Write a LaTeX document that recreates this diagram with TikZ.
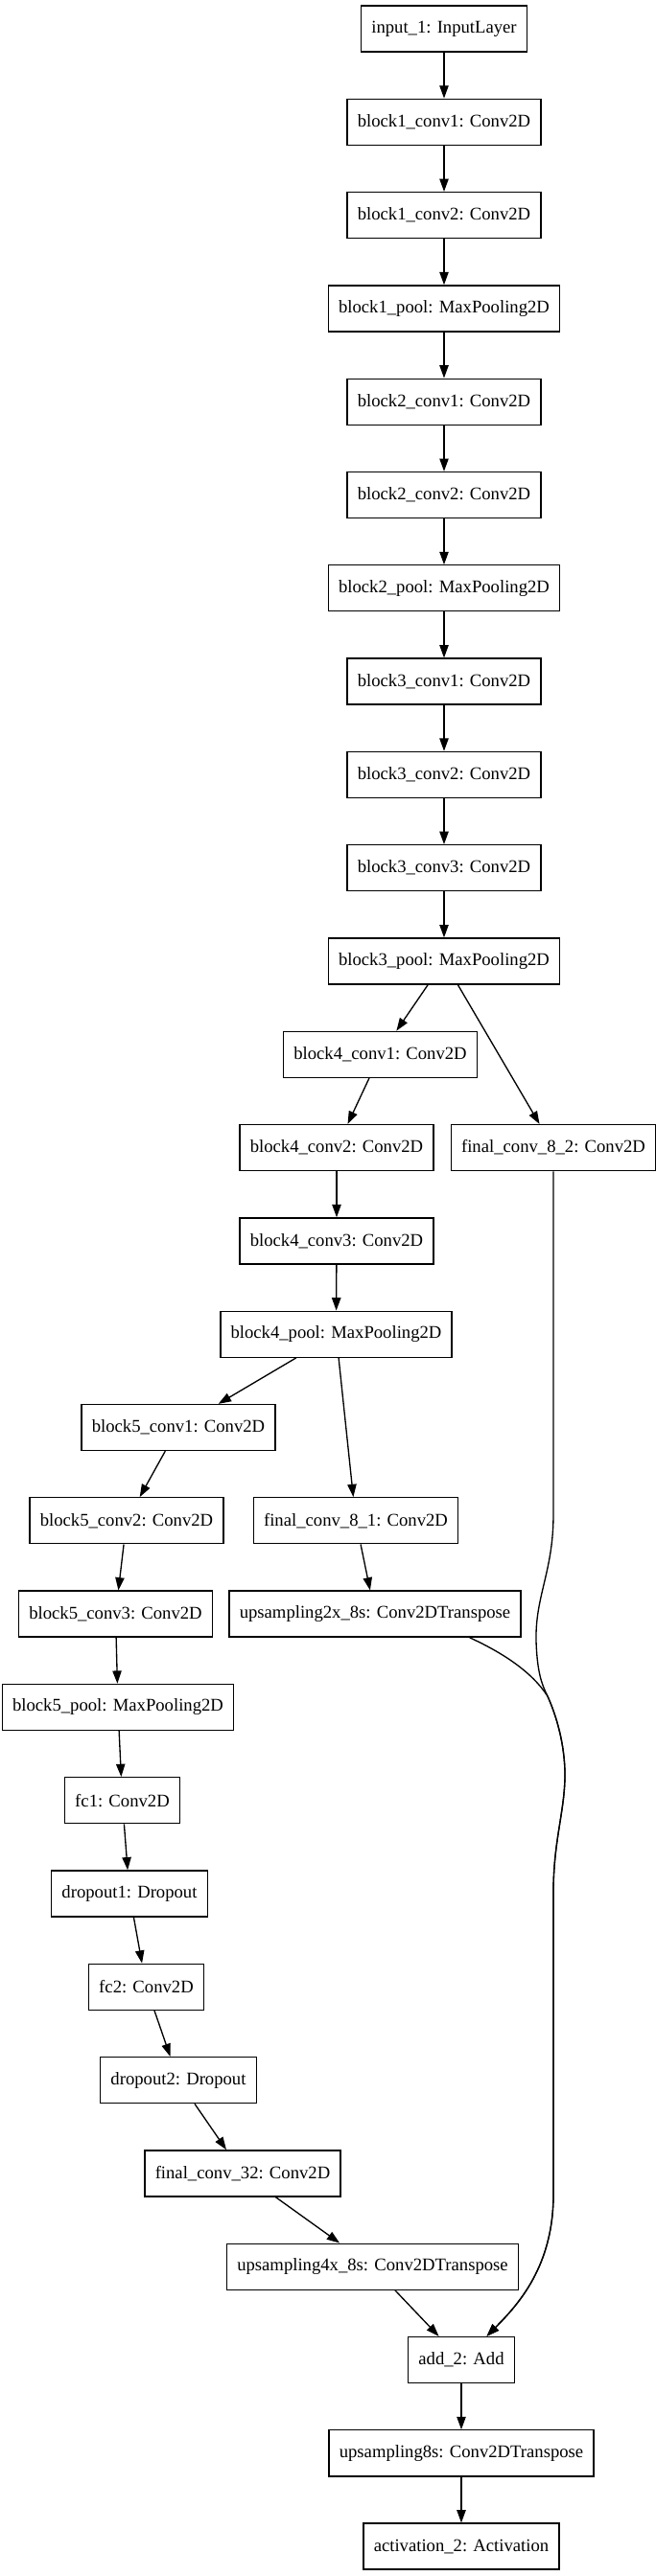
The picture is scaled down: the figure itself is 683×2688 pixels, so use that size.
\documentclass[tikz,border=0pt]{standalone}
\usepackage{fontspec}
\setmainfont{Liberation Serif}
\usetikzlibrary{arrows.meta}

\tikzset{
  layer/.style={draw, rectangle, line width=1pt, minimum height=36pt,
    inner xsep=8pt, font=\fontsize{14pt}{16pt}\selectfont},
  flow/.style={draw, line width=1pt, ->, >={Triangle[length=10pt,width=7pt]}}
}

\begin{document}
\begin{tikzpicture}[x=0.75pt, y=-0.75pt]
\useasboundingbox (0,0) rectangle (683,2688);

% encoder
\node[layer] (in) at (463,30) {input\_1: InputLayer};
\node[layer] (b1c1) at (463,127.3) {block1\_conv1: Conv2D};
\node[layer] (b1c2) at (463,224.6) {block1\_conv2: Conv2D};
\node[layer] (b1p) at (463,321.9) {block1\_pool: MaxPooling2D};
\node[layer] (b2c1) at (463,419.2) {block2\_conv1: Conv2D};
\node[layer] (b2c2) at (463,516.5) {block2\_conv2: Conv2D};
\node[layer] (b2p) at (463,613.8) {block2\_pool: MaxPooling2D};
\node[layer] (b3c1) at (463,711.1) {block3\_conv1: Conv2D};
\node[layer] (b3c2) at (463,808.4) {block3\_conv2: Conv2D};
\node[layer] (b3c3) at (463,905.7) {block3\_conv3: Conv2D};
\node[layer] (b3p) at (463,1003) {block3\_pool: MaxPooling2D};
\node[layer] (b4c1) at (396.5,1100.3) {block4\_conv1: Conv2D};
\node[layer] (fc82) at (577,1197.6) {final\_conv\_8\_2: Conv2D};
\node[layer] (b4c2) at (351,1197.6) {block4\_conv2: Conv2D};
\node[layer] (b4c3) at (351,1294.9) {block4\_conv3: Conv2D};
\node[layer] (b4p) at (350.5,1392.2) {block4\_pool: MaxPooling2D};
\node[layer] (b5c1) at (186,1489.5) {block5\_conv1: Conv2D};
\node[layer] (fc81) at (371,1586.8) {final\_conv\_8\_1: Conv2D};
\node[layer] (b5c2) at (132,1586.8) {block5\_conv2: Conv2D};
\node[layer] (b5c3) at (120.5,1684.1) {block5\_conv3: Conv2D};
\node[layer] (up2x) at (391,1684.1) {upsampling2x\_8s: Conv2DTranspose};
\node[layer] (b5p) at (123,1781.4) {block5\_pool: MaxPooling2D};

% head
\node[layer] (fc1) at (127.5,1878.7) {fc1: Conv2D};
\node[layer] (do1) at (135,1976) {dropout1: Dropout};
\node[layer] (fc2) at (152.5,2073.3) {fc2: Conv2D};
\node[layer] (do2) at (186,2170.6) {dropout2: Dropout};
\node[layer] (fc32) at (253,2267.9) {final\_conv\_32: Conv2D};
\node[layer] (up4x) at (388.5,2365.2) {upsampling4x\_8s: Conv2DTranspose};
\node[layer] (add) at (481,2462.5) {add\_2: Add};
\node[layer] (up8) at (481,2559.8) {upsampling8s: Conv2DTranspose};
\node[layer] (act) at (481,2657.1) {activation\_2: Activation};

\path[flow] (in) -- (b1c1);
\path[flow] (b1c1) -- (b1c2);
\path[flow] (b1c2) -- (b1p);
\path[flow] (b1p) -- (b2c1);
\path[flow] (b2c1) -- (b2c2);
\path[flow] (b2c2) -- (b2p);
\path[flow] (b2p) -- (b3c1);
\path[flow] (b3c1) -- (b3c2);
\path[flow] (b3c2) -- (b3c3);
\path[flow] (b3c3) -- (b3p);
\path[flow] (b3p) -- (b4c1);
\path[flow] (b3p) -- (fc82);
\path[flow] (b4c1) -- (b4c2);
\path[flow] (b4c2) -- (b4c3);
\path[flow] (b4c3) -- (b4p);
\path[flow] (b4p) -- (b5c1);
\path[flow] (b4p) -- (fc81);
\path[flow] (b5c1) -- (b5c2);
\path[flow] (b5c2) -- (b5c3);
\path[flow] (fc81) -- (up2x);
\path[flow] (b5c3) -- (b5p);
\path[flow] (b5p) -- (fc1);
\path[flow] (fc1) -- (do1);
\path[flow] (do1) -- (fc2);
\path[flow] (fc2) -- (do2);
\path[flow] (do2) -- (fc32);
\path[flow] (fc32) -- (up4x);
\path[flow] (up4x) -- (add);
\path[flow] (add) -- (up8);
\path[flow] (up8) -- (act);

% skip connections
\path[flow] (fc82.south) -- (577,1580) .. controls (577,1640) and (558,1665) .. (559,1712)
  .. controls (560,1745) and (565,1758) .. (571,1770)
  .. controls (580,1790) and (589,1820) .. (589,1852)
  .. controls (589,1890) and (577,1920) .. (577,1975) -- (577,2290)
  .. controls (577,2365) and (540,2405) .. (add.43);
\path[flow] ([xshift=74pt]up2x.south) .. controls (525,1725) and (555,1745) .. (571,1770)
  .. controls (580,1790) and (589,1820) .. (589,1852)
  .. controls (589,1890) and (577,1920) .. (577,1975) -- (577,2290)
  .. controls (577,2365) and (540,2405) .. (add.43);
\end{tikzpicture}
\end{document}
